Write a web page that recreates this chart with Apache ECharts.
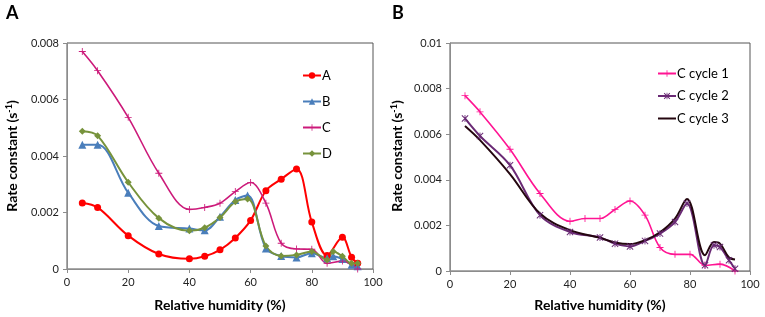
<!DOCTYPE html>
<html>
<head>
<meta charset="utf-8">
<script src="https://cdn.jsdelivr.net/npm/echarts@6/dist/echarts.min.js"></script>
<style>html,body{margin:0;padding:0;background:#fff}#c{width:765px;height:317px}</style>
</head>
<body>
<div id="c"></div>
<script>
// ---- Panel A data ----
const xA = [5,10,20,30,40,45,50,55,60,65,70,75,80,85,90,93,95];
const yA = [0.00234,0.00218,0.00118,0.00053,0.00036,0.00045,0.00068,0.0011,0.00172,0.00277,0.00318,0.00354,0.00166,0.00048,0.00112,0.00042,0.0002];
const xB = [5,10,20,30,40,45,50,55,59,65,70,75,80,85,87,90,93,95];
const yB = [0.0044,0.0044,0.0027,0.00152,0.00143,0.00137,0.00185,0.00244,0.0026,0.00073,0.00046,0.00041,0.00056,0.00038,0.00045,0.00035,0.00015,0.0001];
const xC = [5,10,20,30,40,45,50,55,60,65,70,75,80,85,90,95];
const yC = [0.0077,0.00702,0.00537,0.00339,0.00211,0.00218,0.00233,0.00274,0.00306,0.00233,0.00091,0.00071,0.0007,0.0002,0.00028,0.0];
const xD = [5,10,20,30,40,45,50,55,59,65,70,75,80,85,87,90,93,95];
const yD = [0.00488,0.00472,0.00307,0.0018,0.00135,0.00146,0.00182,0.00238,0.00248,0.00081,0.00046,0.0005,0.00062,0.00032,0.00062,0.00045,0.0002,0.0002];
// ---- Panel B data ----
const xC1 = [5,10,20,30,40,45,50,55,60,65,70,75,80,85,90,95];
const yC1 = [0.00769,0.00698,0.00534,0.0034,0.00218,0.0023,0.0023,0.0027,0.00307,0.00245,0.00103,0.00073,0.00073,0.00025,0.0003,0.0];
const xC2 = [5,10,20,30,40,50,55,60,65,70,75,79,85,88,90,93,95];
const yC2 = [0.00669,0.00592,0.00464,0.00245,0.00171,0.00147,0.0012,0.00108,0.00132,0.00164,0.00215,0.00296,0.00025,0.00113,0.00105,0.00047,0.0001];
const xC3 = [5,10,20,30,40,50,55,60,65,70,75,79,85,88,90,93,95];
const yC3 = [0.00636,0.00574,0.00425,0.00252,0.00179,0.00145,0.00125,0.00118,0.00135,0.0017,0.0023,0.00316,0.00069,0.00127,0.0012,0.00059,0.0005];
// ---- axis ticks ----
const xTicks = {min:0, max:100, interval:20};
const yTicksA = {min:0, max:0.008, interval:0.002};
const yTicksB = {min:0, max:0.01, interval:0.002};

const zip = (xs, ys) => xs.map((x, i) => [x, ys[i]]);
const FONT = 'Lato';
const plusPath = 'path://M4.4,0H5.6V4.4H10V5.6H5.6V10H4.4V5.6H0V4.4H4.4Z';
const starPath = 'path://M0,1L1,0L10,9L9,10Z M9,0L10,1L1,10L0,9Z M4.4,0H5.6V10H4.4Z';

function xAxisCfg(gi){
  return Object.assign({type:'value', gridIndex:gi,
    axisLine:{lineStyle:{color:'#8c8c8c', width:1}},
    axisTick:{show:true, length:4, lineStyle:{color:'#8c8c8c'}},
    axisLabel:{color:'#222', fontSize:11, fontFamily:FONT, margin:8},
    splitLine:{show:false}}, xTicks);
}
function yAxisCfg(gi, t){
  return Object.assign({type:'value', gridIndex:gi,
    axisLine:{show:true, lineStyle:{color:'#8c8c8c', width:1}},
    axisTick:{show:true, length:4, lineStyle:{color:'#8c8c8c'}},
    axisLabel:{color:'#222', fontSize:11, fontFamily:FONT, margin:8},
    splitLine:{show:false}}, t);
}
function ser(name, xs, ys, gi, color, symbol, size, width){
  return {name, type:'line', xAxisIndex:gi, yAxisIndex:gi, data:zip(xs, ys),
    smooth:0.35, symbol, symbolSize:size, showSymbol: symbol !== 'none',
    lineStyle:{color, width:width||2}, itemStyle:{color}, z: 3};
}

const chart = echarts.init(document.getElementById('c'), null, {renderer:'canvas'});
const titleStyle = {fontSize:14, fontWeight:'bold', fontFamily:FONT, fill:'#000'};
chart.setOption({
  animation:false,
  grid:[
    {left:67, right:392, top:43, bottom:48, show:true, borderColor:'#555', borderWidth:1, backgroundColor:'transparent'},
    {left:450, right:15, top:43, bottom:46, show:true, borderColor:'#555', borderWidth:1, backgroundColor:'transparent'}
  ],
  xAxis:[xAxisCfg(0), xAxisCfg(1)],
  yAxis:[yAxisCfg(0, yTicksA), yAxisCfg(1, yTicksB)],
  legend:[
    {data:['A','B','C','D'], orient:'vertical', left:297, top:64, itemWidth:18, itemHeight:8, itemGap:13,
     textStyle:{fontSize:13, fontFamily:FONT, color:'#000', padding:[0,0,0,-4]}},
    {data:['C cycle 1','C cycle 2',{name:'C cycle 3', itemStyle:{opacity:0}}], orient:'vertical', left:652, top:62, itemWidth:18, itemHeight:8, itemGap:9.5,
     textStyle:{fontSize:13, fontFamily:FONT, color:'#000', padding:[0,0,0,-4]}}
  ],
  series:[
    ser('A', xA, yA, 0, '#ff0000', 'circle', 7),
    ser('B', xB, yB, 0, '#4a7ebb', 'triangle', 8),
    ser('C', xC, yC, 0, '#cc1a7a', plusPath, 7, 1.6),
    ser('D', xD, yD, 0, '#77933c', 'diamond', 7),
    ser('C cycle 1', xC1, yC1, 1, '#ff1493', plusPath, 7, 1.6),
    ser('C cycle 2', xC2, yC2, 1, '#6a2a75', starPath, 7),
    ser('C cycle 3', xC3, yC3, 1, '#24060f', 'none', 0, 2)
  ],
  graphic:[
    {type:'text', left:6, top:4, style:{text:'A', fontSize:18, fontWeight:'bold', fontFamily:FONT, fill:'#000'}},
    {type:'text', left:392, top:4, style:{text:'B', fontSize:18, fontWeight:'bold', fontFamily:FONT, fill:'#000'}},
    {type:'text', x:220, y:305, style:Object.assign({text:'Relative humidity (%)', align:'center', verticalAlign:'middle'}, titleStyle)},
    {type:'text', x:600, y:305, style:Object.assign({text:'Relative humidity (%)', align:'center', verticalAlign:'middle'}, titleStyle)},
    {type:'text', x:12, y:156, rotation:Math.PI/2,
     style:Object.assign({text:'Rate constant (s{sup|-1})', align:'center', verticalAlign:'middle',
       rich:{sup:{fontSize:9, fontWeight:'bold', fontFamily:FONT, padding:[0,0,6,0]}}}, titleStyle)},
    {type:'text', x:397, y:156, rotation:Math.PI/2,
     style:Object.assign({text:'Rate constant (s{sup|-1})', align:'center', verticalAlign:'middle',
       rich:{sup:{fontSize:9, fontWeight:'bold', fontFamily:FONT, padding:[0,0,6,0]}}}, titleStyle)}
  ]
});
</script>
</body>
</html>
